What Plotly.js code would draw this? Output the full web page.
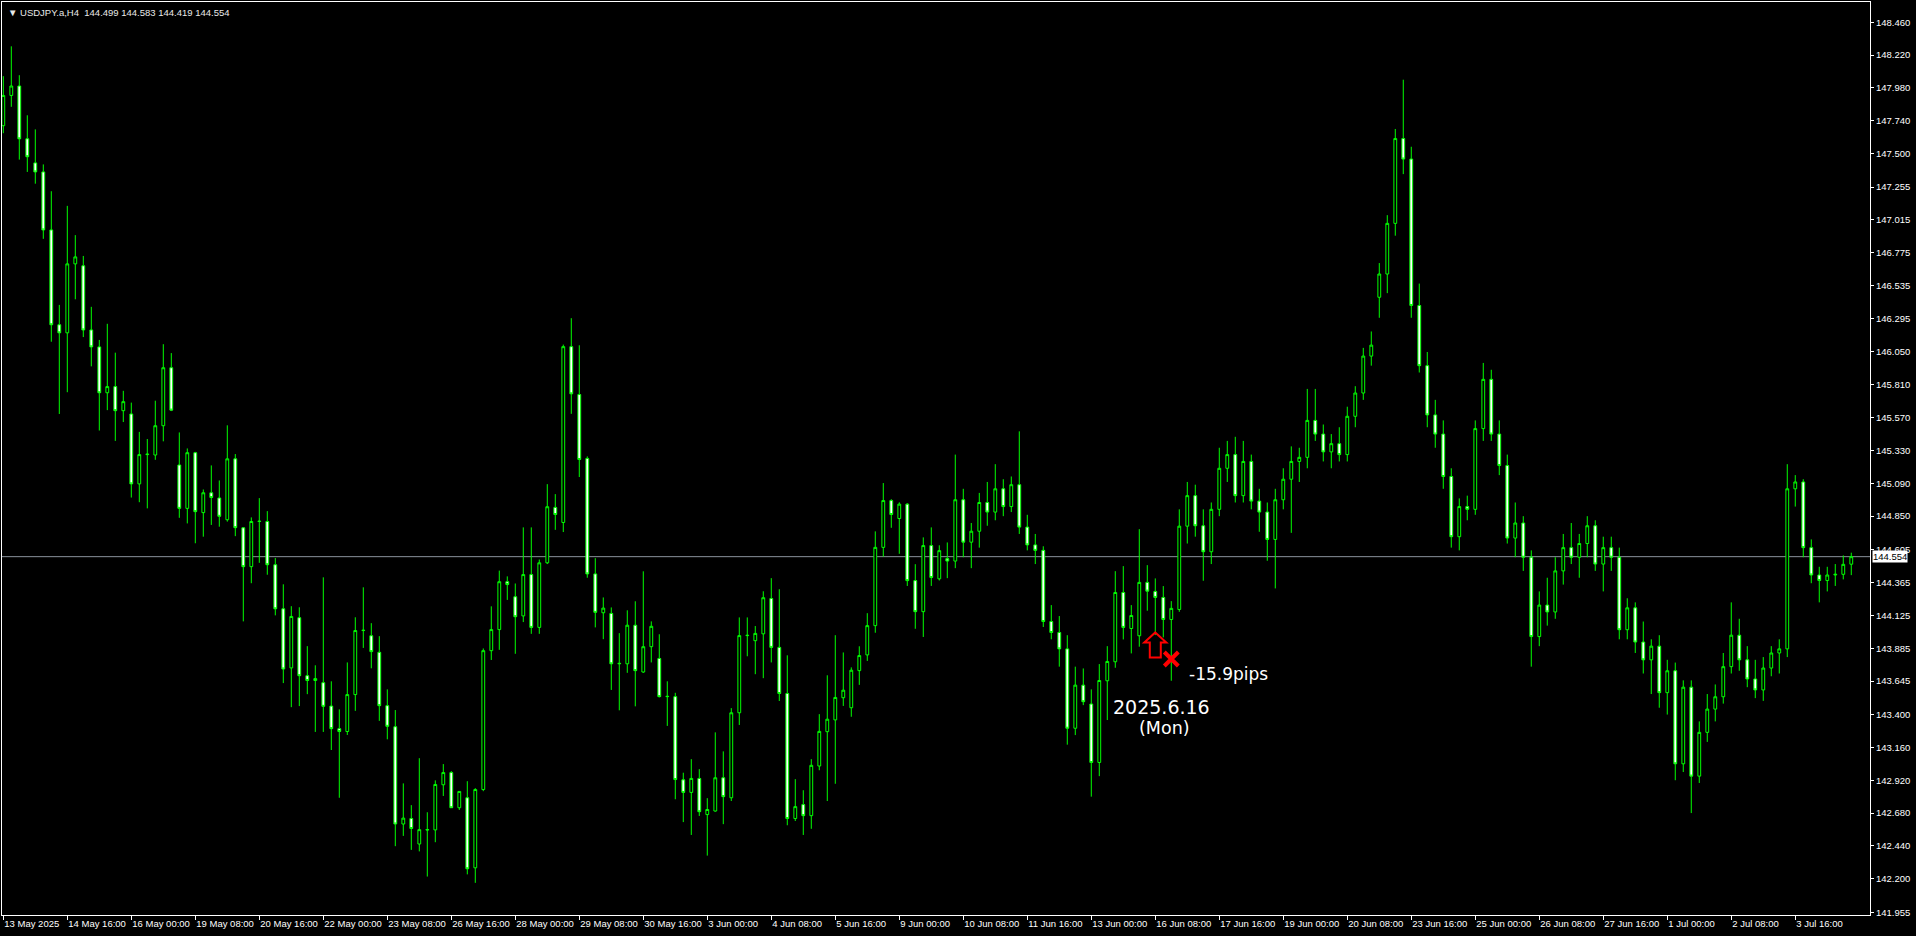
<!DOCTYPE html>
<html>
<head>
<meta charset="utf-8">
<script src="https://cdn.plot.ly/plotly-3.0.1.min.js"></script>
<style>
html,body{margin:0;padding:0;background:#000;}
#chart{width:1916px;height:936px;}
</style>
</head>
<body>
<div id="chart"></div>
<script>
// ---- data (USDJPY.a H4, bars from 13 May 2025 08:00) ----
const symbolName = "USDJPY.a,H4";
const openP = [147.704,147.925,147.994,147.608,147.432,147.366,146.942,146.249,146.190,146.694,
146.680,146.211,146.087,145.752,145.797,145.621,145.597,145.086,145.300,145.297,
145.511,145.935,145.224,144.907,145.314,144.876,145.021,144.983,144.824,145.269,
144.765,144.481,144.811,144.811,144.495,144.173,143.741,144.108,143.684,143.649,
143.633,143.462,143.297,143.276,143.546,144.014,143.976,143.855,143.465,143.311,
142.600,142.640,142.454,142.559,142.557,142.887,142.976,142.719,142.792,142.280,
142.852,143.867,144.021,144.371,144.261,144.121,144.423,144.037,144.509,144.914,
144.804,146.089,145.739,145.272,144.428,144.144,144.139,143.771,143.771,144.053,
143.711,143.896,143.810,143.531,143.531,142.923,142.831,142.933,142.669,142.695,
142.938,142.792,143.413,143.977,143.940,143.990,144.248,143.891,143.554,142.640,
142.742,142.661,143.024,143.275,143.361,143.523,143.450,143.721,143.836,144.050,
144.622,144.964,144.833,144.938,144.379,144.152,144.635,144.392,
144.540,144.522,144.970,144.660,144.740,144.950,144.880,145.050,144.920,145.080,
144.770,144.640,144.600,144.080,144.000,143.880,143.300,143.615,143.477,143.050,
143.647,143.786,144.292,144.029,143.976,144.366,144.300,144.256,144.095,144.168,
144.777,145.000,144.780,144.590,144.900,145.200,145.300,145.000,145.250,144.960,
144.880,144.680,144.970,145.120,145.250,145.280,145.550,145.450,145.320,145.380,
145.300,145.580,145.750,146.020,146.450,146.620,146.990,147.610,147.460,146.390,
145.950,145.590,145.450,145.140,144.700,144.920,144.900,145.490,145.850,145.450,
145.220,144.690,144.800,144.550,143.970,144.200,144.150,144.450,144.620,144.550,
144.650,144.780,144.500,144.620,144.550,144.020,144.180,143.930,143.800,143.900,
143.560,143.720,143.040,143.600,142.950,143.270,143.440,143.530,143.750,143.980,
143.800,143.660,143.580,143.740,143.850,143.880,145.050,145.100,144.620,144.420,
144.380,144.420,144.425,144.499];
const highP = [148.066,148.284,148.073,147.780,147.677,147.421,147.225,146.394,147.118,146.904,
146.752,146.380,146.138,146.256,146.045,145.766,145.680,145.466,145.414,145.694,
146.107,146.042,145.462,145.345,145.320,145.045,145.221,145.111,145.514,145.304,
144.770,144.841,144.982,144.887,144.544,144.352,144.192,144.184,143.900,143.760,
144.403,143.643,143.438,143.781,144.111,144.330,144.068,143.973,143.584,143.433,
142.897,142.738,143.081,142.686,142.919,143.038,142.987,142.838,142.913,142.862,
143.883,144.191,144.452,144.410,144.358,144.768,144.768,144.533,145.084,145.011,
146.104,146.297,146.099,145.287,144.543,144.256,144.183,143.995,144.162,144.228,
144.447,144.081,143.987,143.643,143.559,142.975,143.074,143.001,142.789,143.270,
143.131,143.447,144.110,144.110,144.047,144.301,144.397,144.316,143.833,142.928,
142.847,143.074,143.403,143.687,143.980,143.854,143.745,143.899,144.141,144.739,
145.092,144.974,144.951,144.945,144.499,144.695,144.768,144.637,
144.658,145.300,145.050,144.800,145.020,145.100,145.230,145.120,145.140,145.470,
144.860,144.720,144.630,144.200,144.120,143.980,143.750,143.737,143.584,143.769,
143.900,144.448,144.485,144.200,144.755,144.492,144.395,144.339,144.229,144.900,
145.100,145.080,144.900,144.950,145.350,145.400,145.430,145.400,145.300,145.050,
144.950,145.050,145.200,145.360,145.350,145.780,145.780,145.520,145.450,145.500,
145.650,145.800,146.080,146.200,146.700,147.050,147.680,148.040,147.550,146.550,
146.050,145.700,145.550,145.200,144.980,145.000,145.550,145.970,145.920,145.550,
145.300,144.950,144.850,144.600,144.300,144.400,144.550,144.720,144.800,144.720,
144.850,144.820,144.700,144.700,144.620,144.250,144.220,144.080,143.950,143.980,
143.800,143.780,143.650,143.650,143.350,143.550,143.620,143.850,144.220,144.100,
143.900,143.800,143.820,143.900,143.950,145.230,145.150,145.120,144.680,144.480,
144.480,144.500,144.563,144.583];
const lowP = [147.649,147.842,147.456,147.366,147.280,146.877,146.125,145.597,145.756,146.435,
146.159,145.945,145.476,145.625,145.400,145.538,144.986,144.952,144.907,145.262,
145.397,145.618,144.838,144.797,144.652,144.700,144.786,144.773,144.810,144.704,
144.081,144.360,144.509,144.422,144.125,143.630,143.454,143.462,143.549,143.273,
143.273,143.141,142.792,143.251,143.427,143.887,143.738,143.354,143.219,142.438,
142.513,142.411,142.400,142.216,142.467,142.805,142.719,142.703,142.232,142.170,
142.840,143.799,143.873,144.238,143.844,144.076,143.990,143.990,144.500,144.750,
144.734,145.598,145.136,144.400,144.037,143.951,143.580,143.431,143.705,143.460,
143.705,143.781,143.525,143.317,142.781,142.614,142.520,142.659,142.369,142.690,
142.599,142.768,143.324,143.826,143.695,143.666,143.781,143.499,142.591,142.622,
142.520,142.565,142.993,142.768,142.894,143.463,143.384,143.617,143.792,143.998,
144.554,144.765,144.575,144.340,144.027,143.967,144.340,144.380,
144.397,144.470,144.550,144.470,144.620,144.780,144.820,144.850,144.880,144.720,
144.600,144.500,144.040,143.950,143.750,143.180,143.250,143.469,142.800,142.950,
143.360,143.742,143.949,143.847,143.896,144.159,143.981,143.964,143.647,144.151,
144.650,144.700,144.378,144.500,144.850,145.100,144.950,144.950,144.900,144.736,
144.524,144.322,144.900,144.728,145.100,145.200,145.400,145.250,145.200,145.250,
145.250,145.500,145.700,145.950,146.300,146.480,146.900,147.350,146.300,145.900,
145.500,145.350,145.050,144.620,144.600,144.820,144.860,145.400,145.400,145.150,
144.650,144.550,144.450,143.750,143.900,144.050,144.100,144.350,144.500,144.400,
144.550,144.450,144.300,144.450,143.950,143.950,143.850,143.700,143.550,143.450,
143.400,142.920,142.980,142.680,142.900,143.200,143.350,143.480,143.700,143.720,
143.600,143.520,143.500,143.680,143.700,143.820,144.920,144.550,144.360,144.220,
144.300,144.340,144.388,144.419];
const closeP = [147.925,147.994,147.608,147.477,147.366,146.942,146.249,146.190,146.694,146.745,
146.211,146.087,145.752,145.797,145.621,145.687,145.086,145.300,145.303,145.511,
145.935,145.625,144.907,145.314,144.883,145.021,144.986,144.849,145.269,144.766,
144.481,144.811,144.813,144.495,144.173,143.733,144.117,143.684,143.649,143.663,
143.460,143.297,143.276,143.546,144.014,144.016,143.860,143.465,143.314,142.600,
142.643,142.567,142.559,142.557,142.889,142.976,142.719,142.838,142.273,142.852,
143.867,144.021,144.371,144.350,144.115,144.423,144.037,144.509,144.919,144.862,
146.089,145.744,145.264,144.428,144.147,144.178,143.771,143.774,144.053,143.721,
143.896,144.045,143.531,143.533,142.925,142.831,142.933,142.690,142.706,142.938,
142.800,143.413,143.977,143.979,143.993,144.254,143.891,143.554,142.640,142.727,
142.661,143.029,143.277,143.366,143.525,143.578,143.724,143.831,144.050,144.622,
144.964,144.862,144.938,144.379,144.152,144.635,144.402,144.598,
144.522,144.970,144.660,144.740,144.950,144.880,145.050,144.920,145.080,144.770,
144.640,144.600,144.080,144.000,143.880,143.300,143.615,143.494,143.050,143.649,
143.788,144.292,144.037,144.124,144.366,144.302,144.256,144.095,144.176,144.777,
145.000,144.780,144.590,144.900,145.200,145.300,145.000,145.250,144.960,144.880,
144.680,144.970,145.120,145.250,145.280,145.550,145.450,145.320,145.380,145.300,
145.580,145.750,146.020,146.100,146.620,146.990,147.610,147.460,146.390,145.950,
145.590,145.450,145.140,144.700,144.920,144.900,145.490,145.850,145.450,145.220,
144.690,144.800,144.550,143.970,144.200,144.150,144.450,144.620,144.550,144.650,
144.780,144.500,144.620,144.550,144.020,144.180,143.930,143.800,143.900,143.560,
143.720,143.040,143.600,142.950,143.270,143.440,143.530,143.750,143.980,143.800,
143.660,143.580,143.740,143.850,143.880,145.050,145.100,144.620,144.420,144.380,
144.420,144.425,144.498,144.554];

const timeTickLabels = ["13 May 2025","14 May 16:00","16 May 00:00","19 May 08:00","20 May 16:00",
"22 May 00:00","23 May 08:00","26 May 16:00","28 May 00:00","29 May 08:00","30 May 16:00",
"3 Jun 00:00","4 Jun 08:00","5 Jun 16:00","9 Jun 00:00","10 Jun 08:00","11 Jun 16:00",
"13 Jun 00:00","16 Jun 08:00","17 Jun 16:00","19 Jun 00:00","20 Jun 08:00","23 Jun 16:00",
"25 Jun 00:00","26 Jun 08:00","27 Jun 16:00","1 Jul 00:00","2 Jul 08:00","3 Jul 16:00"];
const barsPerTimeLabel = 8;
const priceTickLabels = ["148.460","148.220","147.980","147.740","147.500","147.255","147.015",
"146.775","146.535","146.295","146.050","145.810","145.570","145.330","145.090","144.850",
"144.605","144.365","144.125","143.885","143.645","143.400","143.160","142.920","142.680",
"142.440","142.200","141.955"];

// trade signal
const entryBar = 144;          // 16 Jun 08:00
const entryPrice = 144.000;
const resultText = "-15.9pips";
const dateText = "2025.6.16";
const dayText = "(Mon)";

// ---- build ----
const n = openP.length;
const xIdx = openP.map((_, i) => i);
const GREEN = "#00ff00";
const FONT = "Liberation Sans, Arial, sans-serif";
const NFONT = "DejaVu Sans, Noto Sans, sans-serif";

const lastO = openP[n-1], lastH = highP[n-1], lastL = lowP[n-1], lastC = closeP[n-1];

const trace = {
  type: "candlestick",
  x: xIdx, open: openP, high: highP, low: lowP, close: closeP,
  increasing: {line: {color: GREEN, width: 1}, fillcolor: "#000000"},
  decreasing: {line: {color: GREEN, width: 1}, fillcolor: "#ffffff"},
  whiskerwidth: 0,
  hoverinfo: "skip",
  showlegend: false
};

const tickvalsX = timeTickLabels.map((_, k) => k * barsPerTimeLabel);
const tickvalsY = priceTickLabels.map(Number);

const layout = {
  width: 1916, height: 936,
  paper_bgcolor: "#000000", plot_bgcolor: "#000000",
  margin: {l: 2, r: 46, t: 2, b: 21, pad: 0},
  boxgap: 0.5,
  showlegend: false,
  xaxis: {
    type: "linear", range: [-0.1625, 233.34],
    showgrid: false, zeroline: false,
    showline: true, linecolor: "#ffffff", linewidth: 1, mirror: true,
    ticks: "outside", ticklen: 4, tickcolor: "#ffffff", tickwidth: 1,
    tickmode: "array", tickvals: tickvalsX, ticktext: timeTickLabels,
    tickangle: 0,
    ticklabelposition: "outside right",
    tickfont: {family: FONT, size: 9.5, color: "#ffffff"},
    rangeslider: {visible: false}, fixedrange: true
  },
  yaxis: {
    side: "right", range: [141.935, 148.608],
    showgrid: false, zeroline: false,
    showline: true, linecolor: "#ffffff", linewidth: 1, mirror: true,
    ticks: "outside", ticklen: 3, tickcolor: "#ffffff", tickwidth: 1,
    tickmode: "array", tickvals: tickvalsY, ticktext: priceTickLabels,
    tickfont: {family: FONT, size: 9.5, color: "#ffffff"},
    fixedrange: true
  },
  shapes: [
    {type: "line", xref: "paper", x0: 0, x1: 1, yref: "y", y0: lastC, y1: lastC,
     line: {color: "#8a929c", width: 1}, layer: "below"},
    // entry arrow (hollow block arrow), pixel-sized at the entry point
    {type: "path", xref: "x", yref: "y", xsizemode: "pixel", ysizemode: "pixel",
     xanchor: entryBar, yanchor: entryPrice,
     path: "M0,0 L11,-10 L5.5,-10 L5.5,-25 L-5.5,-25 L-5.5,-10 L-11,-10 Z",
     line: {color: "#ff0000", width: 2}, fillcolor: "rgba(0,0,0,0)"},
    // exit cross
    {type: "path", xref: "x", yref: "y", xsizemode: "pixel", ysizemode: "pixel",
     xanchor: entryBar, yanchor: entryPrice,
     path: "M9,-19.5 L23,-33.5 M9,-33.5 L23,-19.5",
     line: {color: "#ff0000", width: 4}}
  ],
  annotations: [
    {xref: "paper", yref: "paper", x: 0, y: 1, xanchor: "left", yanchor: "top",
     xshift: 4, yshift: -3, showarrow: false,
     text: "▼\u00a0" + symbolName + "\u00a0\u00a0" + [lastO, lastH, lastL, lastC].map(v => v.toFixed(3)).join("\u00a0"),
     font: {family: FONT, size: 9.5, color: "#e8e8e8"}},
    {xref: "paper", yref: "y", x: 1, y: lastC, xanchor: "left", yanchor: "middle",
     xshift: 2, showarrow: false, text: lastC.toFixed(3),
     bgcolor: "#ffffff", borderpad: 0,
     font: {family: FONT, size: 9.5, color: "#000000"}},
    {xref: "x", yref: "y", x: entryBar, y: entryPrice, xanchor: "left", yanchor: "middle",
     xshift: 32, yshift: -42, showarrow: false, text: resultText,
     font: {family: NFONT, size: 17, color: "#ffffff"}},
    {xref: "x", yref: "y", x: entryBar, y: entryPrice, xanchor: "left", yanchor: "middle",
     xshift: -44, yshift: -75, showarrow: false, text: dateText,
     font: {family: NFONT, size: 19, color: "#ffffff"}},
    {xref: "x", yref: "y", x: entryBar, y: entryPrice, xanchor: "center", yanchor: "middle",
     xshift: 9, yshift: -96, showarrow: false, text: dayText,
     font: {family: NFONT, size: 17.5, color: "#ffffff"}}
  ]
};

Plotly.newPlot("chart", [trace], layout, {displayModeBar: false, staticPlot: true});
</script>
</body>
</html>
